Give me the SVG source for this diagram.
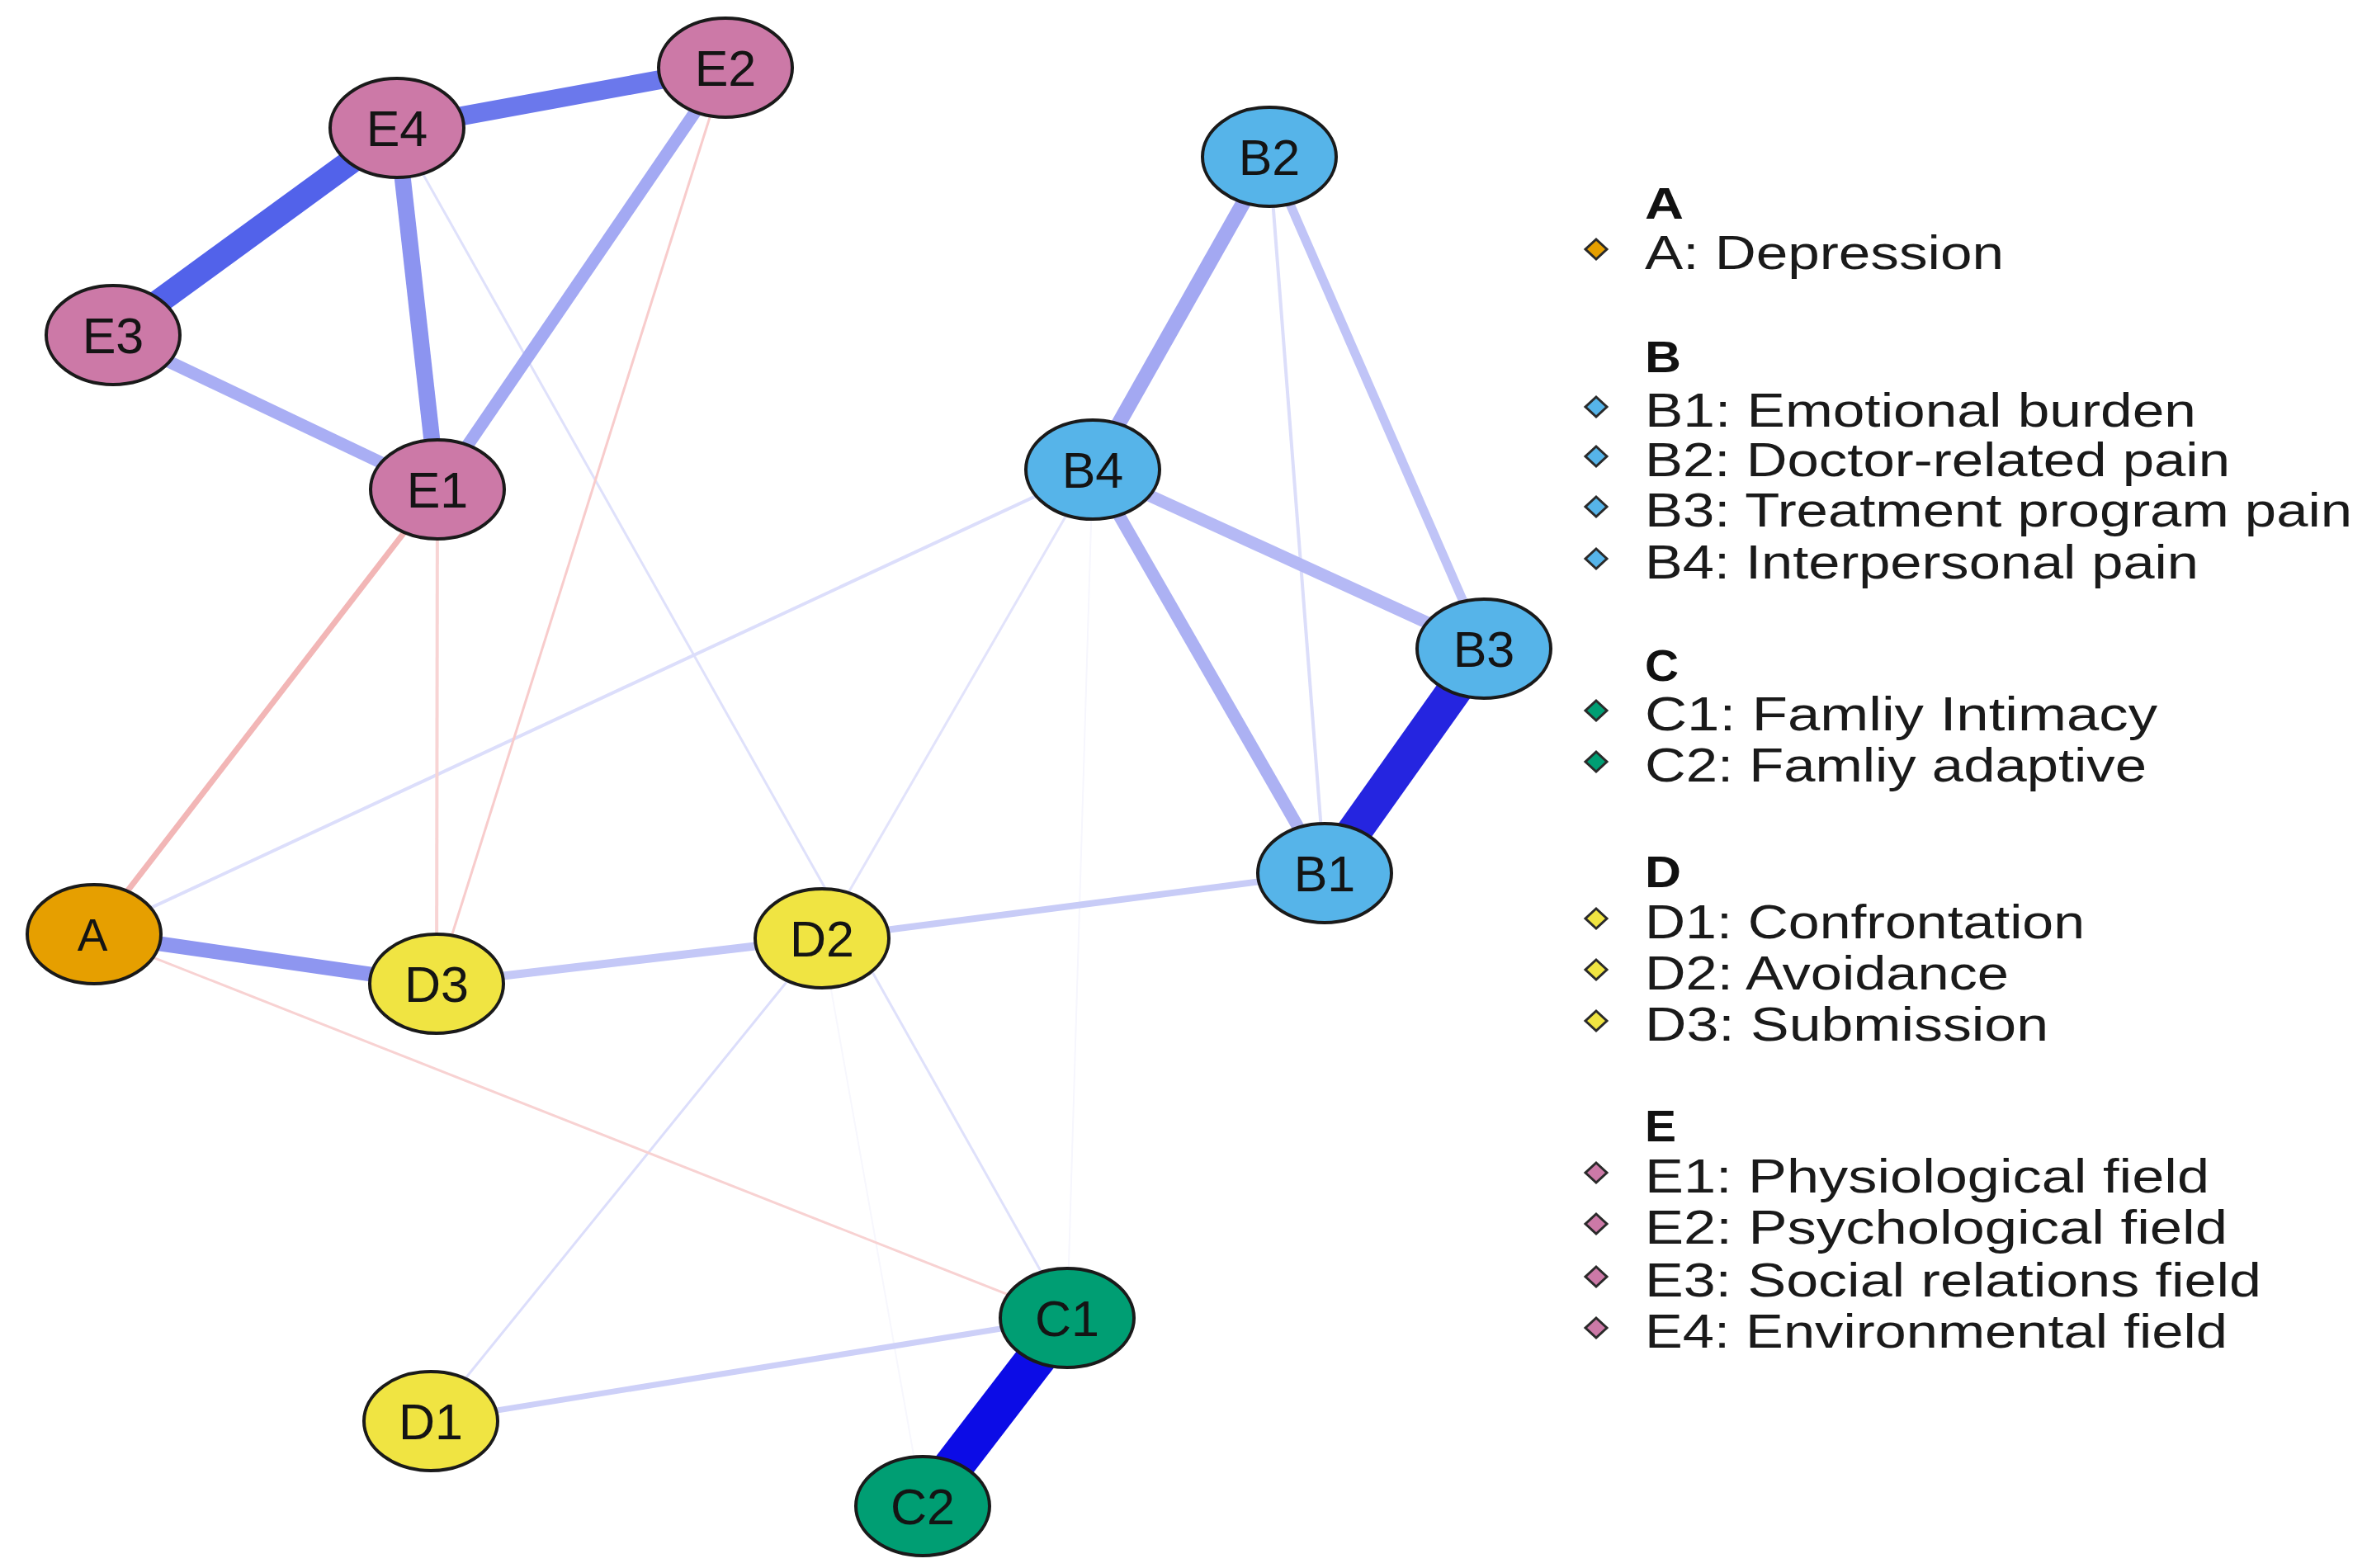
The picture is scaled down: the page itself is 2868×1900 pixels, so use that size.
<svg xmlns="http://www.w3.org/2000/svg" width="2868" height="1900" viewBox="0 0 2868 1900">
<style>
.n{stroke:#1a1a1a;stroke-width:4}
.lbl{font-family:"Liberation Sans",Arial,sans-serif;font-size:61px;fill:#141414;text-anchor:middle}
.e line{stroke-linecap:butt}
.lg{font-family:"Liberation Sans",Arial,sans-serif;font-size:58px;fill:#1a1a1a}
.hd{font-family:"Liberation Sans",Arial,sans-serif;font-size:54px;font-weight:bold;fill:#111}
.dm{stroke:#2a2a2a;stroke-width:3}
.cA{fill:#E69F00}.cB{fill:#56B4E9}.cC{fill:#009E73}.cD{fill:#F0E442}.cE{fill:#CC79A7}
</style>
<rect width="2868" height="1900" fill="#ffffff"/>
<g id="edges" class="e">
  <line x1="1324" y1="569" x2="1293" y2="1597" stroke="#f6f6fd" stroke-width="2"/>
  <line x1="996" y1="1137" x2="1118" y2="1825" stroke="#f7f7fd" stroke-width="2"/>
  <line x1="481" y1="155" x2="1293" y2="1597" stroke="#dfe1fb" stroke-width="3"/>
  <line x1="114" y1="1132" x2="1324" y2="569" stroke="#dcdefb" stroke-width="4"/>
  <line x1="996" y1="1137" x2="1324" y2="569" stroke="#e2e3fb" stroke-width="3"/>
  <line x1="996" y1="1137" x2="522" y2="1722" stroke="#dcdefb" stroke-width="3"/>
  <line x1="879" y1="82" x2="529" y2="1192" stroke="#f8cccc" stroke-width="3"/>
  <line x1="530" y1="593" x2="529" y2="1192" stroke="#f8d4d4" stroke-width="4"/>
  <line x1="114" y1="1132" x2="1293" y2="1597" stroke="#f8d2d2" stroke-width="3"/>
  <line x1="530" y1="593" x2="114" y2="1132" stroke="#f2b6b6" stroke-width="7"/>
  <line x1="1538" y1="190" x2="1605" y2="1058" stroke="#dcdefa" stroke-width="4"/>
  <line x1="522" y1="1722" x2="1293" y2="1597" stroke="#cdd0f8" stroke-width="7"/>
  <line x1="996" y1="1137" x2="1605" y2="1058" stroke="#c8ccf7" stroke-width="8"/>
  <line x1="529" y1="1192" x2="996" y2="1137" stroke="#c4c8f7" stroke-width="10"/>
  <line x1="1538" y1="190" x2="1798" y2="786" stroke="#c0c4f7" stroke-width="11"/>
  <line x1="1324" y1="569" x2="1798" y2="786" stroke="#b5b9f5" stroke-width="15"/>
  <line x1="1324" y1="569" x2="1605" y2="1058" stroke="#acb1f3" stroke-width="15"/>
  <line x1="1538" y1="190" x2="1324" y2="569" stroke="#a3a8f2" stroke-width="18"/>
  <line x1="114" y1="1132" x2="529" y2="1192" stroke="#8e96f0" stroke-width="18"/>
  <line x1="137" y1="406" x2="530" y2="593" stroke="#a9aef4" stroke-width="15"/>
  <line x1="879" y1="82" x2="530" y2="593" stroke="#a3a9f3" stroke-width="15"/>
  <line x1="481" y1="155" x2="530" y2="593" stroke="#8c94f0" stroke-width="20"/>
  <line x1="481" y1="155" x2="879" y2="82" stroke="#6b78ec" stroke-width="23"/>
  <line x1="137" y1="406" x2="481" y2="155" stroke="#5262ea" stroke-width="30"/>
  <line x1="1798" y1="786" x2="1605" y2="1058" stroke="#2525e0" stroke-width="42"/>
  <line x1="1293" y1="1597" x2="1118" y2="1825" stroke="#0c0ce6" stroke-width="48"/>
</g>
<g id="node-E2"><ellipse class="n cE" cx="879" cy="82" rx="81" ry="60"/><text class="lbl" x="879" y="104">E2</text></g>
<g id="node-E4"><ellipse class="n cE" cx="481" cy="155" rx="81" ry="60"/><text class="lbl" x="481" y="177">E4</text></g>
<g id="node-E3"><ellipse class="n cE" cx="137" cy="406" rx="81" ry="60"/><text class="lbl" x="137" y="428">E3</text></g>
<g id="node-E1"><ellipse class="n cE" cx="530" cy="593" rx="81" ry="60"/><text class="lbl" x="530" y="615">E1</text></g>
<g id="node-B2"><ellipse class="n cB" cx="1538" cy="190" rx="81" ry="60"/><text class="lbl" x="1538" y="212">B2</text></g>
<g id="node-B4"><ellipse class="n cB" cx="1324" cy="569" rx="81" ry="60"/><text class="lbl" x="1324" y="591">B4</text></g>
<g id="node-B3"><ellipse class="n cB" cx="1798" cy="786" rx="81" ry="60"/><text class="lbl" x="1798" y="808">B3</text></g>
<g id="node-B1"><ellipse class="n cB" cx="1605" cy="1058" rx="81" ry="60"/><text class="lbl" x="1605" y="1080">B1</text></g>
<g id="node-A"><ellipse class="n cA" cx="114" cy="1132" rx="81" ry="60"/><text class="lbl" x="112" y="1152" style="font-size:55px">A</text></g>
<g id="node-D3"><ellipse class="n cD" cx="529" cy="1192" rx="81" ry="60"/><text class="lbl" x="529" y="1214">D3</text></g>
<g id="node-D2"><ellipse class="n cD" cx="996" cy="1137" rx="81" ry="60"/><text class="lbl" x="996" y="1159">D2</text></g>
<g id="node-D1"><ellipse class="n cD" cx="522" cy="1722" rx="81" ry="60"/><text class="lbl" x="522" y="1744">D1</text></g>
<g id="node-C1"><ellipse class="n cC" cx="1293" cy="1597" rx="81" ry="60"/><text class="lbl" x="1293" y="1619">C1</text></g>
<g id="node-C2"><ellipse class="n cC" cx="1118" cy="1825" rx="81" ry="60"/><text class="lbl" x="1118" y="1847">C2</text></g>
<g id="legend">
  <defs><path id="dia" d="M0,-12 L13,0 L0,12 L-13,0 Z"/></defs>
  <text class="hd" x="1993" y="265" textLength="47" lengthAdjust="spacingAndGlyphs">A</text>
  <use href="#dia" class="dm cA" x="1934" y="302"/>
  <text class="lg" x="1993" y="326" textLength="435" lengthAdjust="spacingAndGlyphs">A: Depression</text>

  <text class="hd" x="1993" y="451" textLength="44" lengthAdjust="spacingAndGlyphs">B</text>
  <use href="#dia" class="dm cB" x="1934" y="493"/>
  <text class="lg" x="1993" y="517" textLength="668" lengthAdjust="spacingAndGlyphs">B1: Emotional burden</text>
  <use href="#dia" class="dm cB" x="1934" y="553"/>
  <text class="lg" x="1993" y="577" textLength="709" lengthAdjust="spacingAndGlyphs">B2: Doctor-related pain</text>
  <use href="#dia" class="dm cB" x="1934" y="614"/>
  <text class="lg" x="1993" y="638" textLength="857" lengthAdjust="spacingAndGlyphs">B3: Treatment program pain</text>
  <use href="#dia" class="dm cB" x="1934" y="677"/>
  <text class="lg" x="1993" y="701" textLength="671" lengthAdjust="spacingAndGlyphs">B4: Interpersonal pain</text>

  <text class="hd" x="1993" y="825" textLength="41" lengthAdjust="spacingAndGlyphs">C</text>
  <use href="#dia" class="dm cC" x="1934" y="861"/>
  <text class="lg" x="1993" y="885" textLength="621" lengthAdjust="spacingAndGlyphs">C1: Famliy Intimacy</text>
  <use href="#dia" class="dm cC" x="1934" y="923"/>
  <text class="lg" x="1993" y="947" textLength="608" lengthAdjust="spacingAndGlyphs">C2: Famliy adaptive</text>

  <text class="hd" x="1993" y="1075" textLength="44" lengthAdjust="spacingAndGlyphs">D</text>
  <use href="#dia" class="dm cD" x="1934" y="1113"/>
  <text class="lg" x="1993" y="1137" textLength="533" lengthAdjust="spacingAndGlyphs">D1: Confrontation</text>
  <use href="#dia" class="dm cD" x="1934" y="1175"/>
  <text class="lg" x="1993" y="1199" textLength="441" lengthAdjust="spacingAndGlyphs">D2: Avoidance</text>
  <use href="#dia" class="dm cD" x="1934" y="1237"/>
  <text class="lg" x="1993" y="1261" textLength="489" lengthAdjust="spacingAndGlyphs">D3: Submission</text>

  <text class="hd" x="1993" y="1383" textLength="38" lengthAdjust="spacingAndGlyphs">E</text>
  <use href="#dia" class="dm cE" x="1934" y="1421"/>
  <text class="lg" x="1993" y="1445" textLength="684" lengthAdjust="spacingAndGlyphs">E1: Physiological field</text>
  <use href="#dia" class="dm cE" x="1934" y="1483"/>
  <text class="lg" x="1993" y="1507" textLength="706" lengthAdjust="spacingAndGlyphs">E2: Psychological field</text>
  <use href="#dia" class="dm cE" x="1934" y="1547"/>
  <text class="lg" x="1993" y="1571" textLength="747" lengthAdjust="spacingAndGlyphs">E3: Social relations field</text>
  <use href="#dia" class="dm cE" x="1934" y="1609"/>
  <text class="lg" x="1993" y="1633" textLength="706" lengthAdjust="spacingAndGlyphs">E4: Environmental field</text>
</g>
</svg>
